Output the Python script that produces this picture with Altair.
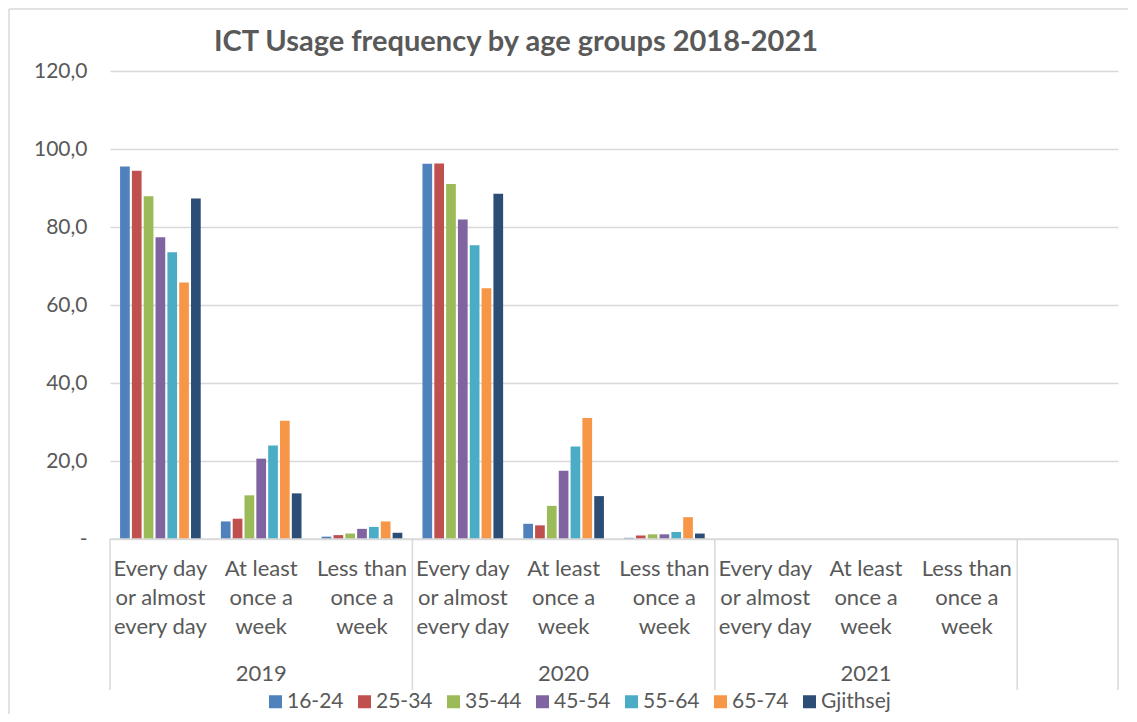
import altair as alt
import pandas as pd

# ---- data ----
title_text = "ICT Usage frequency by age groups 2018-2021"
years = ["2019", "2020", "2021"]
freq_keys = ["daily", "weekly", "less"]
freq_labels = ["Every day\nor almost\nevery day", "At least\nonce a\nweek", "Less than\nonce a\nweek"]
groups = ["16-24", "25-34", "35-44", "45-54", "55-64", "65-74", "Gjithsej"]
colors = ["#4F81BD", "#C0504D", "#9BBB59", "#8064A2", "#4BACC6", "#F79646", "#2C4D75"]

v2019_daily = [95.5, 94.4, 87.9, 77.4, 73.5, 65.8, 87.3]
v2019_weekly = [4.5, 5.2, 11.2, 20.6, 24.0, 30.3, 11.7]
v2019_less = [0.6, 1.0, 1.4, 2.6, 3.1, 4.5, 1.6]
v2020_daily = [96.2, 96.3, 91.0, 81.9, 75.3, 64.3, 88.5]
v2020_weekly = [3.9, 3.5, 8.5, 17.5, 23.7, 31.0, 11.0]
v2020_less = [0.3, 0.9, 1.2, 1.2, 1.8, 5.6, 1.4]

series = {
    ("2019", "daily"): v2019_daily,
    ("2019", "weekly"): v2019_weekly,
    ("2019", "less"): v2019_less,
    ("2020", "daily"): v2020_daily,
    ("2020", "weekly"): v2020_weekly,
    ("2020", "less"): v2020_less,
}

slots = [f"{y}|{f}" for y in years for f in freq_keys] + ["empty"]

rows = []
for (y, f), vals in series.items():
    for g, v in zip(groups, vals):
        rows.append({"slot": f"{y}|{f}", "group": g, "value": v})
df = pd.DataFrame(rows)

cat_df = pd.DataFrame(
    [{"slot": f"{y}|{f}", "label": lab} for y in years for f, lab in zip(freq_keys, freq_labels)]
)
year_df = pd.DataFrame([{"slot": f"{y}|weekly", "label": y} for y in years])

# ---- layout ----
W, H = 1008, 468
FONT = "Lato"
GREY = "#595959"
LINE = "#d9d9d9"

xscale = alt.Scale(domain=slots, paddingInner=0.2, paddingOuter=0.1)

bars = alt.Chart(df).mark_bar().encode(
    x=alt.X("slot:N", scale=xscale, axis=None),
    xOffset=alt.XOffset("group:N", scale=alt.Scale(domain=groups, paddingInner=0.18, paddingOuter=0)),
    y=alt.Y(
        "value:Q",
        scale=alt.Scale(domain=[0, 120]),
        axis=alt.Axis(
            values=[0, 20, 40, 60, 80, 100, 120],
            labelExpr="datum.value == 0 ? '-\u00a0\u00a0\u00a0\u00a0' : replace(format(datum.value, '.1f'), '.', ',')",
            grid=True, gridColor=LINE, gridWidth=1.3,
            domain=False, ticks=False, labelPadding=23,
            labelFontSize=21, labelFont=FONT, labelColor=GREY, title=None,
        ),
    ),
    color=alt.Color(
        "group:N",
        scale=alt.Scale(domain=groups, range=colors),
        legend=alt.Legend(
            orient="none", legendX=155, legendY=620, direction="horizontal", columns=7,
            title=None, symbolType="square", symbolSize=169, symbolStrokeWidth=0,
            labelFontSize=21, labelFont=FONT, labelColor=GREY, columnPadding=10,
            labelOffset=1, padding=0,
        ),
    ),
)

cat_text = alt.Chart(cat_df).mark_text(
    baseline="top", lineBreak="\n", lineHeight=29, fontSize=22, font=FONT, color=GREY
).encode(x=alt.X("slot:N", scale=xscale, axis=None), y=alt.value(H + 20), text="label:N")

year_text = alt.Chart(year_df).mark_text(
    baseline="middle", fontSize=22, font=FONT, color=GREY
).encode(x=alt.X("slot:N", scale=xscale, axis=None), y=alt.value(603), text="label:N")

one = pd.DataFrame({"a": [0]})

title_mark = alt.Chart(pd.DataFrame({"t": [title_text]})).mark_text(
    baseline="middle", align="center", fontSize=29, font=FONT, fontWeight="bold", color=GREY
).encode(x=alt.value(406), y=alt.value(-29), text="t:N")

layers = [bars, cat_text, year_text, title_mark]
step = W / len(slots)
for xp in [0, 3 * step, 6 * step, 9 * step, W]:
    layers.append(
        alt.Chart(one).mark_rule(color=LINE, strokeWidth=1.5).encode(
            x=alt.value(xp), y=alt.value(H), y2=alt.value(H + 151)
        )
    )
layers.append(alt.Chart(one).mark_rule(color=LINE, strokeWidth=1.5).encode(
    x=alt.value(0), x2=alt.value(W), y=alt.value(H)))
# outer chart frame (left and top edges)
layers.append(alt.Chart(one).mark_rule(color=LINE, strokeWidth=1.5).encode(
    x=alt.value(-101), y=alt.value(-62), y2=alt.value(H + 175)))
layers.append(alt.Chart(one).mark_rule(color=LINE, strokeWidth=1.5).encode(
    x=alt.value(-101), x2=alt.value(W + 10), y=alt.value(-62)))

chart = alt.layer(*layers).properties(
    width=W, height=H,
    autosize=alt.AutoSizeParams(type="none"),
    padding={"left": 102, "top": 63, "right": 10, "bottom": 175},
).configure_view(stroke=None)

chart.save("out.html", embed_options={"renderer": "svg", "actions": False})
